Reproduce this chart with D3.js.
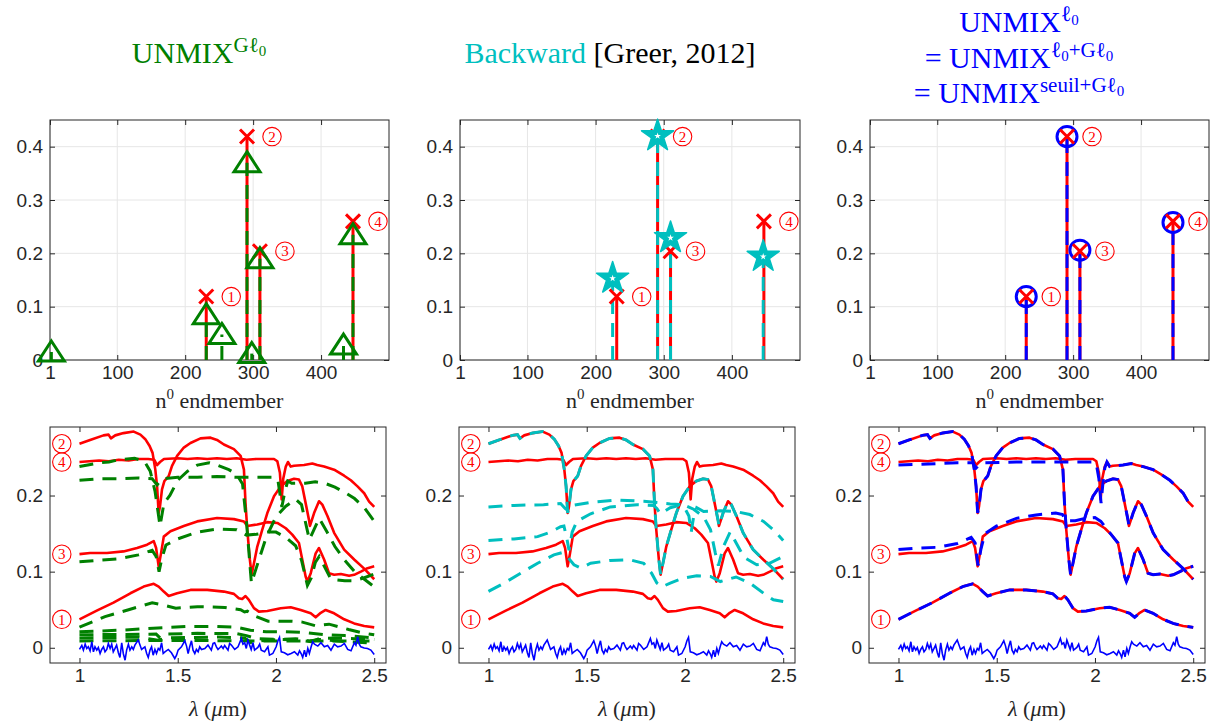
<!DOCTYPE html>
<html><head><meta charset="utf-8">
<script src="https://cdn.jsdelivr.net/npm/d3@7"></script>
<style>body{margin:0;background:#fff}svg{display:block}</style>
</head><body><svg id="c" width="1215" height="724"></svg>
<script>
// ---------- DATA ----------
const endmemberDomain = [1, 500];
const abundDomain = [0, 0.45];
const lambdaDomain = [0.85, 2.56];
const reflDomain = [-0.02, 0.29];
const topXTicks = [1, 100, 200, 300, 400];
const topYTicks = [0, 0.1, 0.2, 0.3, 0.4];
const botXTicks = [1, 1.5, 2, 2.5];
const botYTicks = [0, 0.1, 0.2];
const labelDigits = ['1', '2', '3', '4'];

// true endmembers (red)
const trueIdx = [231, 291, 310, 447];
const trueAbund = [0.119, 0.419, 0.204, 0.26];
// UNMIX^{G l0} (green triangles)
const gIdx = [3, 231, 254, 291, 298, 310, 433, 447];
const gAbund = [0.015, 0.085, 0.048, 0.37, 0.012, 0.19, 0.028, 0.235];
// Backward (teal stars)
const bwIdx = [225, 291, 310, 446];
const bwAbund = [0.153, 0.42, 0.229, 0.194];
// UNMIX^{l0} (blue circles)
const l0Idx = [231, 291, 310, 447];
const l0Abund = [0.119, 0.419, 0.206, 0.258];

// true spectra [lambda, reflectance]
const spec1 = [[1.0,0.0374],[1.088,0.0488],[1.173,0.0593],[1.259,0.0716],[1.327,0.0804],[1.378,0.084],[1.403,0.0804],[1.429,0.0738],[1.454,0.068],[1.497,0.0716],[1.565,0.076],[1.65,0.076],[1.735,0.0738],[1.786,0.0708],[1.811,0.065],[1.828,0.064],[1.845,0.068],[1.862,0.063],[1.888,0.052],[1.913,0.0475],[1.956,0.0484],[2.024,0.052],[2.075,0.0532],[2.126,0.0497],[2.177,0.0453],[2.202,0.040],[2.228,0.046],[2.253,0.0497],[2.296,0.0453],[2.347,0.0374],[2.398,0.032],[2.449,0.0286],[2.5,0.0268]];
const spec2 = [[1.0,0.268],[1.054,0.273],[1.122,0.279],[1.148,0.280],[1.160,0.275],[1.182,0.279],[1.224,0.282],[1.276,0.284],[1.31,0.280],[1.335,0.274],[1.357,0.265],[1.372,0.256],[1.386,0.234],[1.395,0.212],[1.403,0.177],[1.41,0.186],[1.42,0.208],[1.432,0.219],[1.454,0.2255],[1.471,0.239],[1.497,0.252],[1.531,0.263],[1.565,0.269],[1.616,0.275],[1.667,0.276],[1.70,0.273],[1.735,0.267],[1.786,0.261],[1.82,0.252],[1.837,0.234],[1.845,0.190],[1.854,0.155],[1.867,0.116],[1.876,0.096],[1.888,0.111],[1.905,0.133],[1.93,0.155],[1.956,0.177],[1.99,0.199],[2.024,0.212],[2.058,0.219],[2.092,0.222],[2.117,0.221],[2.134,0.212],[2.151,0.190],[2.168,0.168],[2.173,0.160],[2.194,0.177],[2.219,0.1925],[2.236,0.188],[2.262,0.173],[2.296,0.151],[2.347,0.129],[2.398,0.116],[2.449,0.104],[2.5,0.090]];
const spec3 = [[1.0,0.123],[1.054,0.1244],[1.14,0.1244],[1.224,0.1266],[1.293,0.131],[1.344,0.1354],[1.378,0.140],[1.39,0.131],[1.403,0.107],[1.415,0.124],[1.429,0.146],[1.463,0.153],[1.531,0.160],[1.599,0.166],[1.70,0.1705],[1.786,0.169],[1.837,0.166],[1.854,0.160],[1.905,0.162],[1.956,0.165],[2.007,0.164],[2.05,0.157],[2.083,0.1486],[2.117,0.1376],[2.134,0.1156],[2.151,0.0936],[2.16,0.087],[2.177,0.098],[2.202,0.124],[2.219,0.131],[2.245,0.116],[2.27,0.098],[2.296,0.096],[2.33,0.097],[2.372,0.0945],[2.398,0.0958],[2.432,0.100],[2.466,0.1046],[2.5,0.107]];
const spec4 = [[1.0,0.244],[1.05,0.245],[1.1,0.246],[1.15,0.245],[1.2,0.247],[1.25,0.246],[1.3,0.248],[1.35,0.248],[1.38,0.247],[1.395,0.240],[1.41,0.244],[1.43,0.248],[1.5,0.249],[1.55,0.248],[1.6,0.249],[1.65,0.248],[1.7,0.249],[1.75,0.248],[1.8,0.249],[1.85,0.247],[1.9,0.248],[1.95,0.248],[1.99,0.248],[2.007,0.245],[2.02,0.230],[2.029,0.195],[2.037,0.222],[2.05,0.238],[2.061,0.244],[2.075,0.238],[2.092,0.239],[2.143,0.240],[2.185,0.242],[2.21,0.240],[2.245,0.238],[2.296,0.234],[2.347,0.226],[2.381,0.220],[2.415,0.212],[2.449,0.203],[2.474,0.192],[2.5,0.185]];
const trueSpectra = [spec1, spec2, spec3, spec4];

// UNMIX^{G l0} estimated spectra (green dashed)
const gSpecA = [[1.0,0.238],[1.1,0.243],[1.15,0.244],[1.2,0.247],[1.28,0.249],[1.33,0.245],[1.36,0.232],[1.385,0.205],[1.41,0.160],[1.43,0.190],[1.46,0.200],[1.5,0.220],[1.55,0.232],[1.6,0.240],[1.66,0.243],[1.7,0.240],[1.76,0.234],[1.8,0.228],[1.83,0.215],[1.85,0.165],[1.875,0.085],[1.9,0.105],[1.95,0.145],[2.0,0.172],[2.05,0.186],[2.1,0.195],[2.13,0.188],[2.17,0.142],[2.22,0.170],[2.26,0.152],[2.3,0.133],[2.35,0.115],[2.4,0.100],[2.45,0.090],[2.5,0.080]];
const gSpecB = [[1.0,0.220],[1.1,0.222],[1.2,0.222],[1.3,0.223],[1.37,0.222],[1.395,0.214],[1.42,0.222],[1.5,0.224],[1.6,0.224],[1.7,0.225],[1.8,0.224],[1.9,0.224],[1.99,0.224],[2.01,0.220],[2.03,0.185],[2.045,0.205],[2.06,0.219],[2.08,0.216],[2.15,0.216],[2.2,0.218],[2.25,0.216],[2.3,0.211],[2.35,0.204],[2.4,0.196],[2.45,0.184],[2.5,0.166]];
const gSpecC = [[1.0,0.113],[1.1,0.115],[1.2,0.117],[1.3,0.122],[1.37,0.128],[1.39,0.120],[1.405,0.100],[1.42,0.118],[1.44,0.135],[1.5,0.143],[1.6,0.152],[1.7,0.156],[1.8,0.155],[1.85,0.148],[1.9,0.149],[1.96,0.152],[2.0,0.152],[2.05,0.145],[2.1,0.134],[2.13,0.115],[2.16,0.082],[2.18,0.092],[2.2,0.112],[2.22,0.120],[2.25,0.105],[2.28,0.090],[2.35,0.088],[2.4,0.088],[2.45,0.092],[2.5,0.097]];
const gSpecD = [[1.0,0.027],[1.13,0.041],[1.25,0.050],[1.37,0.059],[1.43,0.056],[1.49,0.052],[1.6,0.054],[1.74,0.053],[1.82,0.050],[1.84,0.047],[1.855,0.048],[1.9,0.041],[1.96,0.035],[2.07,0.035],[2.13,0.034],[2.2,0.029],[2.27,0.031],[2.37,0.024],[2.45,0.019],[2.5,0.017]];
const gSpecE = [[1.0,0.021],[1.2,0.023],[1.4,0.026],[1.55,0.028],[1.7,0.028],[1.8,0.027],[1.87,0.023],[1.95,0.021],[2.05,0.021],[2.15,0.020],[2.25,0.017],[2.35,0.016],[2.5,0.013]];
const gSpecF = [[1.0,0.017],[1.2,0.0175],[1.39,0.018],[1.41,0.013],[1.43,0.018],[1.6,0.019],[1.8,0.0185],[1.85,0.016],[1.9,0.012],[2.0,0.011],[2.1,0.0105],[2.18,0.008],[2.22,0.012],[2.3,0.013],[2.4,0.012],[2.5,0.011]];
const gSpecG = [[1.0,0.013],[1.3,0.014],[1.4,0.010],[1.45,0.013],[1.7,0.014],[1.84,0.013],[1.87,0.007],[1.95,0.010],[2.1,0.012],[2.17,0.009],[2.22,0.011],[2.35,0.008],[2.5,0.006]];
const gSpecH = [[1.0,0.009],[1.3,0.0095],[1.6,0.0095],[1.9,0.009],[2.2,0.009],[2.5,0.009]];
const greenSpectra = [gSpecA, gSpecB, gSpecC, gSpecD, gSpecE, gSpecF, gSpecG, gSpecH];

// Backward estimated spectra (teal dashed)
const tSpec1 = [[1.0,0.074],[1.08,0.085],[1.164,0.098],[1.25,0.111],[1.333,0.122],[1.375,0.125],[1.40,0.120],[1.435,0.109],[1.47,0.1046],[1.52,0.111],[1.62,0.1147],[1.72,0.1156],[1.79,0.111],[1.83,0.098],[1.857,0.085],[1.883,0.080],[1.925,0.085],[1.99,0.0914],[2.06,0.0945],[2.13,0.0936],[2.18,0.087],[2.22,0.090],[2.26,0.093],[2.33,0.085],[2.4,0.0716],[2.45,0.063],[2.5,0.0607]];
const tSpec2 = spec2;
const tSpec3 = [[1.0,0.141],[1.13,0.143],[1.25,0.146],[1.316,0.152],[1.367,0.159],[1.384,0.160],[1.40,0.142],[1.41,0.128],[1.426,0.152],[1.45,0.166],[1.52,0.176],[1.62,0.185],[1.756,0.188],[1.84,0.187],[1.857,0.183],[1.875,0.176],[1.925,0.184],[1.99,0.188],[2.044,0.182],[2.095,0.172],[2.13,0.155],[2.154,0.125],[2.17,0.108],[2.196,0.133],[2.23,0.152],[2.26,0.138],[2.3,0.119],[2.365,0.109],[2.43,0.111],[2.5,0.12]];
const tSpec4 = [[1.0,0.185],[1.13,0.187],[1.28,0.188],[1.367,0.1895],[1.39,0.183],[1.405,0.180],[1.426,0.187],[1.52,0.191],[1.655,0.194],[1.79,0.1925],[1.925,0.189],[1.99,0.188],[2.02,0.173],[2.032,0.152],[2.044,0.172],[2.06,0.184],[2.095,0.179],[2.18,0.180],[2.26,0.179],[2.33,0.175],[2.4,0.166],[2.45,0.155],[2.5,0.141]];
const tealSpectra = [tSpec1, tSpec2, tSpec3, tSpec4];

// UNMIX^{l0} estimated spectra (blue dashed)
const bSpec1 = spec1;
const bSpec2 = spec2;
const bSpec3 = [[1.0,0.129],[1.1,0.131],[1.2,0.132],[1.3,0.137],[1.37,0.145],[1.39,0.138],[1.405,0.108],[1.42,0.130],[1.44,0.150],[1.5,0.160],[1.6,0.170],[1.7,0.1745],[1.8,0.177],[1.835,0.175],[1.85,0.167],[1.9,0.167],[1.95,0.170],[2.0,0.171],[2.03,0.166],[2.06,0.156]].concat(spec3.filter(d => d[0] >= 2.083));
const bSpec4 = [[1.0,0.240],[1.1,0.241],[1.2,0.242],[1.3,0.243],[1.38,0.243],[1.395,0.236],[1.41,0.240],[1.43,0.243],[1.6,0.244],[1.8,0.244],[1.99,0.244],[2.007,0.241],[2.02,0.222],[2.031,0.190],[2.04,0.215],[2.05,0.236]].concat(spec4.filter(d => d[0] >= 2.061));
const blueSpectra = [bSpec1, bSpec2, bSpec3, bSpec4];

// residual noise (blue solid)
const noise = [[1.000,-0.0022],[1.012,0.0031],[1.020,-0.0031],[1.029,0.0048],[1.037,-0.0009],[1.045,0.0013],[1.054,-0.0040],[1.063,0.0079],[1.071,-0.0053],[1.079,0.0013],[1.088,-0.0031],[1.096,0.0004],[1.105,-0.0075],[1.113,-0.0022],[1.122,0.0013],[1.130,-0.0053],[1.139,-0.0022],[1.147,0.0057],[1.156,-0.0009],[1.164,0.0048],[1.172,-0.0053],[1.181,-0.0009],[1.189,0.0035],[1.198,-0.0066],[1.206,-0.0127],[1.215,0.0066],[1.223,-0.0075],[1.232,-0.0163],[1.240,-0.0031],[1.249,0.0048],[1.257,-0.0031],[1.266,0.0013],[1.274,-0.0022],[1.282,0.0035],[1.299,0.0101],[1.316,-0.0022],[1.333,0.0013],[1.342,-0.0075],[1.350,-0.0127],[1.359,-0.0031],[1.367,0.0013],[1.375,-0.0097],[1.384,-0.0022],[1.392,-0.0075],[1.401,-0.0009],[1.409,-0.0031],[1.418,0.0066],[1.426,-0.0075],[1.435,-0.0053],[1.452,-0.0022],[1.468,-0.0066],[1.485,-0.0141],[1.494,-0.0097],[1.502,-0.0031],[1.519,0.0013],[1.536,0.0092],[1.545,0.0022],[1.553,-0.0075],[1.561,0.0013],[1.570,0.0092],[1.578,-0.0031],[1.587,-0.0075],[1.595,-0.0022],[1.604,-0.0053],[1.612,0.0013],[1.621,-0.0022],[1.638,-0.0009],[1.654,0.0035],[1.671,-0.0031],[1.680,0.0057],[1.688,0.0066],[1.697,0.0013],[1.705,-0.0022],[1.714,0.0000],[1.722,0.0022],[1.731,-0.0009],[1.739,0.0031],[1.756,-0.0031],[1.764,0.0057],[1.773,0.0035],[1.790,-0.0022],[1.807,0.0013],[1.824,0.0123],[1.832,0.0048],[1.841,0.0066],[1.849,-0.0009],[1.857,0.0101],[1.866,0.0035],[1.874,-0.0022],[1.883,0.0066],[1.891,-0.0031],[1.908,0.0004],[1.917,0.0048],[1.925,-0.0031],[1.942,-0.0053],[1.959,0.0013],[1.967,-0.0097],[1.984,-0.0075],[2.001,0.0013],[2.010,0.0092],[2.018,0.0136],[2.027,-0.0053],[2.043,-0.0066],[2.060,-0.0092],[2.077,-0.0075],[2.094,-0.0053],[2.111,-0.0097],[2.120,-0.0040],[2.128,-0.0075],[2.136,-0.0127],[2.145,-0.0031],[2.153,-0.0119],[2.162,-0.0009],[2.170,-0.0075],[2.179,0.0013],[2.187,0.0079],[2.196,0.0048],[2.213,0.0022],[2.229,0.0066],[2.246,0.0013],[2.263,0.0031],[2.280,-0.0031],[2.297,0.0048],[2.314,0.0013],[2.331,0.0022],[2.348,0.0057],[2.365,-0.0022],[2.382,-0.0040],[2.399,0.0066],[2.407,0.0035],[2.416,0.0145],[2.424,0.0048],[2.432,0.0013],[2.449,-0.0004],[2.466,-0.0009],[2.483,-0.0031],[2.500,-0.0088]];

// ---------- STYLE / LAYOUT ----------
const SERIF = "'Liberation Serif','Times New Roman',serif";
const SANS = "'Liberation Sans',Arial,Helvetica,sans-serif";
const RED = '#ff0000', GREEN = '#008000', TEAL = '#00bfbf', BLUE = '#0000ff', AX = '#262626';
const TOP = {y0: 120, y1: 360}, BOT = {y0: 427, y1: 663};
const topX = [[50, 389], [460, 800], [870, 1209]];
const botX = [[50, 386], [459, 795], [869, 1205]];
const DASH = '14,9';

const svg = d3.select('#c');

function styleAxis(g) {
  g.select('.domain').remove();
  g.selectAll('.tick line').attr('stroke', AX).attr('stroke-width', 1);
  g.selectAll('.tick text').attr('font-family', SANS).attr('font-size', 19).attr('fill', AX);
}
const fmtY = d => d === 0 ? '0' : d3.format('.1f')(d);

function grid(g, x, y, yr, xt, yt) {
  const [xa, xb] = x.range();
  g.append('g').selectAll('line').data(xt).join('line')
    .attr('x1', d => x(d)).attr('x2', d => x(d)).attr('y1', yr[0]).attr('y2', yr[1])
    .attr('stroke', '#e6e6e6').attr('stroke-width', 1);
  g.append('g').selectAll('line').data(yt).join('line')
    .attr('x1', xa).attr('x2', xb).attr('y1', d => y(d)).attr('y2', d => y(d))
    .attr('stroke', '#e6e6e6').attr('stroke-width', 1);
}
function axes(g, x, y, yr, xt, yt, fx, fy) {
  const [xa, xb] = x.range();
  g.append('g').attr('transform', `translate(0,${yr[1]})`)
    .call(d3.axisBottom(x).tickValues(xt).tickFormat(fx).tickSizeInner(-5).tickSizeOuter(0).tickPadding(6))
    .call(styleAxis);
  g.append('g').attr('transform', `translate(0,${yr[0]})`)
    .call(d3.axisTop(x).tickValues(xt).tickFormat('').tickSizeInner(-5).tickSizeOuter(0))
    .call(styleAxis);
  g.append('g').attr('transform', `translate(${xa},0)`)
    .call(d3.axisLeft(y).tickValues(yt).tickFormat(fy).tickSizeInner(-5).tickSizeOuter(0).tickPadding(7))
    .call(styleAxis);
  g.append('g').attr('transform', `translate(${xb},0)`)
    .call(d3.axisRight(y).tickValues(yt).tickFormat('').tickSizeInner(-5).tickSizeOuter(0))
    .call(styleAxis);
  g.append('rect').attr('x', xa).attr('y', yr[0]).attr('width', xb - xa).attr('height', yr[1] - yr[0])
    .attr('fill', 'none').attr('stroke', AX).attr('stroke-width', 1);
}

// circled number label: thin red circle + serif digit
function circledLabels(g, cx, cy) {
  const lg = g.append('g').selectAll('g').data(labelDigits).join('g')
    .attr('transform', (d, k) => `translate(${cx(k)},${cy(k)})`);
  lg.append('circle').attr('r', 9.2).attr('fill', 'none').attr('stroke', RED).attr('stroke-width', 1.1);
  lg.append('text').attr('text-anchor', 'middle').attr('dy', '0.35em')
    .attr('font-family', SERIF).attr('font-size', 15).attr('fill', RED).text(d => d);
}

function stems(g, x, y, idx, ab, color, dashed) {
  g.append('g').selectAll('line').data(idx).join('line')
    .attr('x1', d => x(d)).attr('x2', d => x(d))
    .attr('y1', y(0)).attr('y2', (d, k) => y(ab[k]))
    .attr('stroke', color).attr('stroke-width', 3)
    .attr('stroke-dasharray', dashed ? DASH : null);
}
function crosses(g, x, y, idx, ab) {
  g.append('g').selectAll('path').data(idx).join('path')
    .attr('transform', (d, k) => `translate(${x(d)},${y(ab[k])})`)
    .attr('d', 'M-7,-7L7,7M-7,7L7,-7').attr('stroke', RED).attr('stroke-width', 3).attr('fill', 'none');
}

function topPanel(p) {
  const g = svg.append('g');
  const x = d3.scaleLinear().domain(endmemberDomain).range(topX[p]);
  const y = d3.scaleLinear().domain(abundDomain).range([TOP.y1, TOP.y0]);
  grid(g, x, y, [TOP.y0, TOP.y1], topXTicks, topYTicks);
  axes(g, x, y, [TOP.y0, TOP.y1], topXTicks, topYTicks, d => String(d), fmtY);
  stems(g, x, y, trueIdx, trueAbund, RED, false);
  if (p === 0) {
    stems(g, x, y, gIdx, gAbund, GREEN, true);
    crosses(g, x, y, trueIdx, trueAbund);
    g.append('g').selectAll('path').data(gIdx).join('path')
      .attr('transform', (d, k) => `translate(${x(d)},${y(gAbund[k])})`)
      .attr('d', 'M0,-11L13,9L-13,9Z').attr('fill', 'none').attr('stroke', GREEN).attr('stroke-width', 3);
  } else if (p === 1) {
    stems(g, x, y, bwIdx, bwAbund, TEAL, true);
    crosses(g, x, y, trueIdx, trueAbund);
    const star = d3.symbol(d3.symbolStar, 320)();
    const small = d3.symbol(d3.symbolStar, 14)();
    const sg = g.append('g').selectAll('g').data(bwIdx).join('g')
      .attr('transform', (d, k) => `translate(${x(d)},${y(bwAbund[k])})`);
    sg.append('path').attr('d', star).attr('fill', TEAL).attr('stroke', TEAL).attr('stroke-width', 1.5).attr('stroke-linejoin', 'round');
    sg.append('path').attr('d', small).attr('fill', '#fff');
  } else {
    stems(g, x, y, l0Idx, l0Abund, BLUE, true);
    g.append('g').selectAll('circle').data(l0Idx).join('circle')
      .attr('cx', d => x(d)).attr('cy', (d, k) => y(l0Abund[k])).attr('r', 10)
      .attr('fill', 'none').attr('stroke', BLUE).attr('stroke-width', 3);
    crosses(g, x, y, trueIdx, trueAbund);
  }
  circledLabels(g, k => x(trueIdx[k]) + 25, k => y(trueAbund[k]));
  const cx = (topX[p][0] + topX[p][1]) / 2;
  const t = g.append('text').attr('x', cx).attr('y', 408).attr('text-anchor', 'middle')
    .attr('font-family', SERIF).attr('font-size', 22).attr('fill', AX);
  t.append('tspan').text('n');
  t.append('tspan').attr('dy', -9).attr('font-size', 15).text('0');
  t.append('tspan').attr('dy', 9).text(' endmember');
}

function botPanel(p) {
  const g = svg.append('g');
  const x = d3.scaleLinear().domain(lambdaDomain).range(botX[p]);
  const y = d3.scaleLinear().domain(reflDomain).range([BOT.y1, BOT.y0]);
  const line = d3.line().x(d => x(d[0])).y(d => y(d[1]));
  g.append('g').selectAll('path').data(trueSpectra).join('path')
    .attr('d', line).attr('fill', 'none').attr('stroke', RED).attr('stroke-width', 2.6).attr('stroke-linejoin', 'round');
  const est = p === 0 ? greenSpectra : p === 1 ? tealSpectra : blueSpectra;
  const col = p === 0 ? GREEN : p === 1 ? TEAL : BLUE;
  g.append('g').selectAll('path').data(est).join('path')
    .attr('d', line).attr('fill', 'none').attr('stroke', col).attr('stroke-width', 3).attr('stroke-dasharray', DASH);
  g.append('path').datum(noise).attr('d', line).attr('fill', 'none').attr('stroke', BLUE).attr('stroke-width', 1.6);
  axes(g, x, y, [BOT.y0, BOT.y1], botXTicks, botYTicks, d => String(d), fmtY);
  circledLabels(g, k => x(0.91), k => y(trueSpectra[k][0][1]));
  const cx = (botX[p][0] + botX[p][1]) / 2;
  const t = g.append('text').attr('x', cx).attr('y', 716).attr('text-anchor', 'middle')
    .attr('font-family', SERIF).attr('font-size', 22).attr('fill', AX);
  t.append('tspan').attr('font-style', 'italic').text('λ');
  t.append('tspan').text(' (');
  t.append('tspan').attr('font-style', 'italic').text('μ');
  t.append('tspan').text('m)');
}

function rich(x, y, parts, fill) {
  const t = svg.append('text').attr('x', x).attr('y', y).attr('text-anchor', 'middle')
    .attr('font-family', SERIF).attr('fill', fill);
  parts.forEach(p => {
    const s = t.append('tspan').text(p[0]).attr('font-size', p[1]);
    if (p[2]) s.attr('dy', p[2]);
    if (p[3]) s.attr('fill', p[3]);
  });
}

[0, 1, 2].forEach(topPanel);
[0, 1, 2].forEach(botPanel);

// titles
rich(199, 63, [['UNMIX', 30], ['Gℓ', 21, -11], ['0', 15, 4]], GREEN);
rich(610, 63, [['Backward', 30, 0, TEAL], [' [Greer, 2012]', 30, 0, '#000']], '#000');
rich(1019, 32, [['UNMIX', 30], ['ℓ', 22, -11], ['0', 15, 4]], BLUE);
rich(1019, 68, [['= UNMIX', 30], ['ℓ', 22, -11], ['0', 15, 4], ['+Gℓ', 21, -4], ['0', 15, 4]], BLUE);
rich(1019, 103, [['= UNMIX', 30], ['seuil+Gℓ', 21, -11], ['0', 15, 4]], BLUE);
</script></body></html>
